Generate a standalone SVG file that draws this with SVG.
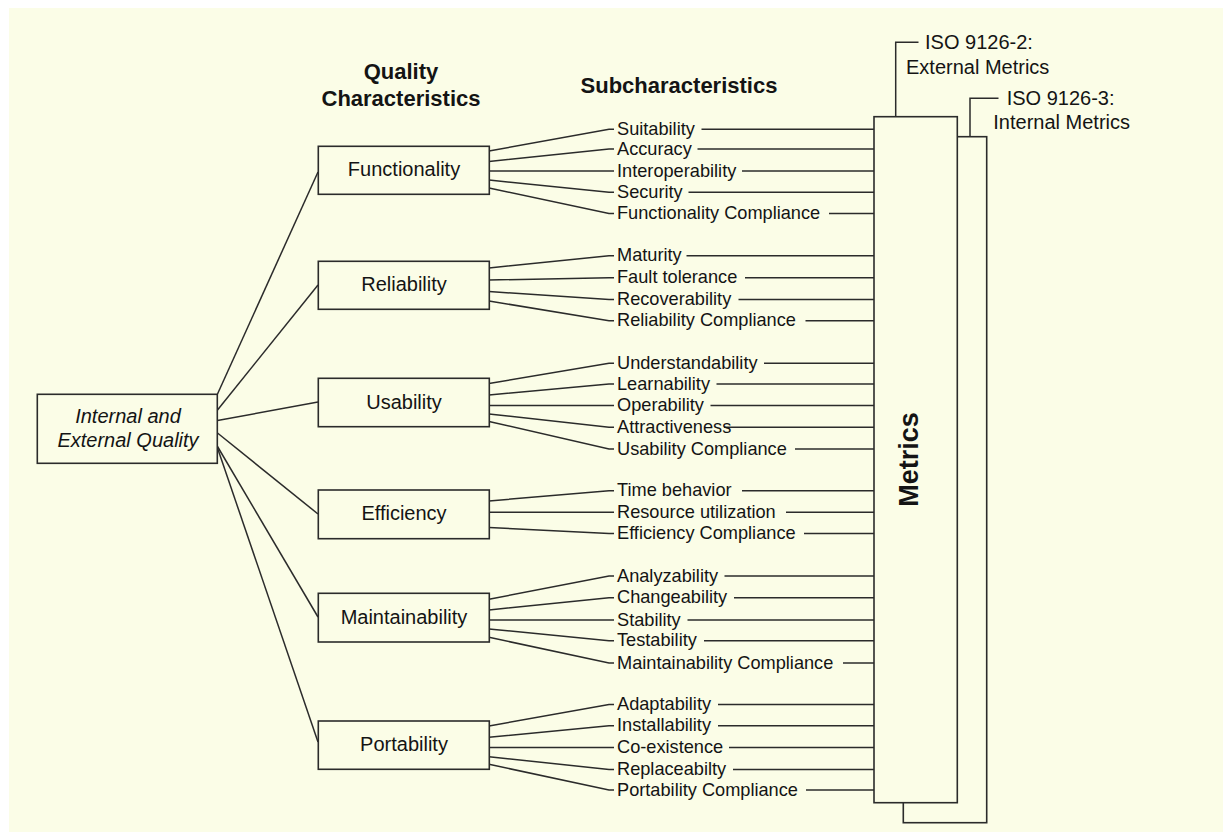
<svg xmlns="http://www.w3.org/2000/svg" width="1223" height="832" viewBox="0 0 1223 832">
  <style>
    .box { fill: #fbfde7; stroke: #2b2b2b; stroke-width: 1.6; }
    .wire { fill: none; stroke: #2b2b2b; stroke-width: 1.5; }
    text { font-family: "Liberation Sans", Arial, sans-serif; fill: #141414; }
    .node { font-size: 20px; text-anchor: middle; }
    .sub { font-size: 18.2px; }
    .head { font-size: 22px; font-weight: bold; text-anchor: middle; }
    .iso { font-size: 20px; }
  </style>

  <!-- canvas -->
  <rect x="0" y="0" width="1223" height="832" fill="#ffffff"/>
  <rect x="9" y="8" width="1214" height="824" fill="#fbfde7"/>

  <!-- column headings -->
  <g id="headings">
    <text class="head" x="401" y="79">Quality</text>
    <text class="head" x="401" y="106">Characteristics</text>
    <text class="head" x="679" y="92.5">Subcharacteristics</text>
  </g>

  <!-- connectors -->
  <g id="connectors" class="wire">
    <!-- root to characteristics -->
    <line x1="217.5" y1="394" x2="318" y2="172"/>
    <line x1="217.5" y1="410" x2="318" y2="285"/>
    <line x1="217.5" y1="420.5" x2="318" y2="402"/>
    <line x1="217.5" y1="433" x2="318" y2="514"/>
    <line x1="217.5" y1="446.5" x2="318" y2="617"/>
    <line x1="217.5" y1="448" x2="318" y2="742"/>

    <!-- Functionality -->
    <polyline points="489,151 609,129.3 614,129.3"/>
    <polyline points="489,161.5 609,149 614,149"/>
    <polyline points="489,171 614,171"/>
    <polyline points="489,180 609,192.3 614,192.3"/>
    <polyline points="489,188 609,213.5 614,213.5"/>
    <!-- Reliability -->
    <polyline points="489,268 609,255.7 614,255.7"/>
    <polyline points="489,280 609,277.7 614,277.7"/>
    <polyline points="489,291.5 609,299.5 614,299.5"/>
    <polyline points="489,301 609,320.7 614,320.7"/>
    <!-- Usability -->
    <polyline points="489,383.5 609,363.3 614,363.3"/>
    <polyline points="489,395 609,384 614,384"/>
    <polyline points="489,405.5 614,405.5"/>
    <polyline points="489,414 609,427.3 614,427.3"/>
    <polyline points="489,421.5 609,449 614,449"/>
    <!-- Efficiency -->
    <polyline points="489,501 609,490.7 614,490.7"/>
    <polyline points="489,512.3 614,512.3"/>
    <polyline points="489,527.5 609,533.5 614,533.5"/>
    <!-- Maintainability -->
    <polyline points="489,599.3 609,576 614,576"/>
    <polyline points="489,610 609,597.7 614,597.7"/>
    <polyline points="489,620 614,620"/>
    <polyline points="489,629 609,640.7 614,640.7"/>
    <polyline points="489,637.3 609,663 614,663"/>
    <!-- Portability -->
    <polyline points="489,726 609,704.5 614,704.5"/>
    <polyline points="489,737.3 609,725.7 614,725.7"/>
    <polyline points="489,747.5 614,747.5"/>
    <polyline points="489,756.7 609,769.5 614,769.5"/>
    <polyline points="489,764.3 609,790 614,790"/>

    <!-- subcharacteristics to metrics -->
    <line x1="701.5" y1="129.3" x2="874" y2="129.3"/>
    <line x1="697.5" y1="149" x2="874" y2="149"/>
    <line x1="742" y1="171" x2="874" y2="171"/>
    <line x1="688.5" y1="192.3" x2="874" y2="192.3"/>
    <line x1="829" y1="213.5" x2="874" y2="213.5"/>
    <line x1="686.5" y1="255.7" x2="874" y2="255.7"/>
    <line x1="745" y1="277.7" x2="874" y2="277.7"/>
    <line x1="738.5" y1="299.5" x2="874" y2="299.5"/>
    <line x1="805.5" y1="320.7" x2="874" y2="320.7"/>
    <line x1="764" y1="363.3" x2="874" y2="363.3"/>
    <line x1="716.5" y1="384" x2="874" y2="384"/>
    <line x1="710.5" y1="405.5" x2="874" y2="405.5"/>
    <line x1="724" y1="427.3" x2="874" y2="427.3"/>
    <line x1="795" y1="449" x2="874" y2="449"/>
    <line x1="742" y1="490.7" x2="874" y2="490.7"/>
    <line x1="786" y1="512.3" x2="874" y2="512.3"/>
    <line x1="804" y1="533.5" x2="874" y2="533.5"/>
    <line x1="724.5" y1="576" x2="874" y2="576"/>
    <line x1="734" y1="597.7" x2="874" y2="597.7"/>
    <line x1="687.5" y1="620" x2="874" y2="620"/>
    <line x1="704" y1="640.7" x2="874" y2="640.7"/>
    <line x1="843" y1="663" x2="874" y2="663"/>
    <line x1="718" y1="704.5" x2="874" y2="704.5"/>
    <line x1="718" y1="725.7" x2="874" y2="725.7"/>
    <line x1="729" y1="747.5" x2="874" y2="747.5"/>
    <line x1="733" y1="769.5" x2="874" y2="769.5"/>
    <line x1="806" y1="790" x2="874" y2="790"/>

    <!-- ISO leaders -->
    <polyline points="895.7,116.7 895.7,42.3 918.5,42.3"/>
    <polyline points="970,136.7 970,98.3 998.5,98.3"/>
  </g>

  <!-- root node -->
  <g id="node-quality">
    <rect class="box" x="37.3" y="394.3" width="180" height="69"/>
    <text class="node" x="128" y="422.7" font-style="italic">Internal and</text>
    <text class="node" x="128" y="446.7" font-style="italic">External Quality</text>
  </g>

  <!-- quality characteristics -->
  <g id="node-functionality">
    <rect class="box" x="318.3" y="146.3" width="171" height="48"/>
    <text class="node" x="404" y="176">Functionality</text>
  </g>
  <g id="node-reliability">
    <rect class="box" x="318.3" y="261.3" width="171" height="48"/>
    <text class="node" x="404" y="291">Reliability</text>
  </g>
  <g id="node-usability">
    <rect class="box" x="318.3" y="378.3" width="171" height="48.4"/>
    <text class="node" x="404" y="408.5">Usability</text>
  </g>
  <g id="node-efficiency">
    <rect class="box" x="318.3" y="490" width="171" height="48.7"/>
    <text class="node" x="404" y="520">Efficiency</text>
  </g>
  <g id="node-maintainability">
    <rect class="box" x="318.3" y="593.3" width="171" height="48.7"/>
    <text class="node" x="404" y="623.5">Maintainability</text>
  </g>
  <g id="node-portability">
    <rect class="box" x="318.3" y="721" width="171" height="48.3"/>
    <text class="node" x="404" y="751">Portability</text>
  </g>

  <!-- subcharacteristics -->
  <g id="subcharacteristics" class="sub">
    <text x="617" y="134.8">Suitability</text>
    <text x="617" y="154.5">Accuracy</text>
    <text x="617" y="176.5">Interoperability</text>
    <text x="617" y="197.8">Security</text>
    <text x="617" y="219">Functionality Compliance</text>
    <text x="617" y="261.2">Maturity</text>
    <text x="617" y="283.2">Fault tolerance</text>
    <text x="617" y="305">Recoverability</text>
    <text x="617" y="326.2">Reliability Compliance</text>
    <text x="617" y="368.8">Understandability</text>
    <text x="617" y="389.5">Learnability</text>
    <text x="617" y="411">Operability</text>
    <text x="617" y="432.8">Attractiveness</text>
    <text x="617" y="454.5">Usability Compliance</text>
    <text x="617" y="496.2">Time behavior</text>
    <text x="617" y="517.8">Resource utilization</text>
    <text x="617" y="539">Efficiency Compliance</text>
    <text x="617" y="581.5">Analyzability</text>
    <text x="617" y="603.2">Changeability</text>
    <text x="617" y="625.5">Stability</text>
    <text x="617" y="646.2">Testability</text>
    <text x="617" y="668.5">Maintainability Compliance</text>
    <text x="617" y="710">Adaptability</text>
    <text x="617" y="731.2">Installability</text>
    <text x="617" y="753">Co-existence</text>
    <text x="617" y="775">Replaceabilty</text>
    <text x="617" y="795.5">Portability Compliance</text>
  </g>

  <!-- metrics: internal sheet behind the external sheet -->
  <g id="node-internal-metrics">
    <rect class="box" x="903.3" y="136.7" width="83.4" height="686"/>
    <text class="iso" x="1006.7" y="104.5">ISO 9126-3:</text>
    <text class="iso" x="993.3" y="129.3">Internal Metrics</text>
  </g>
  <g id="node-external-metrics">
    <rect class="box" x="874" y="116.7" width="83.3" height="686"/>
    <text class="iso" x="925" y="49.3">ISO 9126-2:</text>
    <text class="iso" x="906" y="74">External Metrics</text>
    <text x="918.3" y="459.5" transform="rotate(-90 918.3 459.5)" text-anchor="middle" font-size="27px" font-weight="bold">Metrics</text>
  </g>
</svg>
